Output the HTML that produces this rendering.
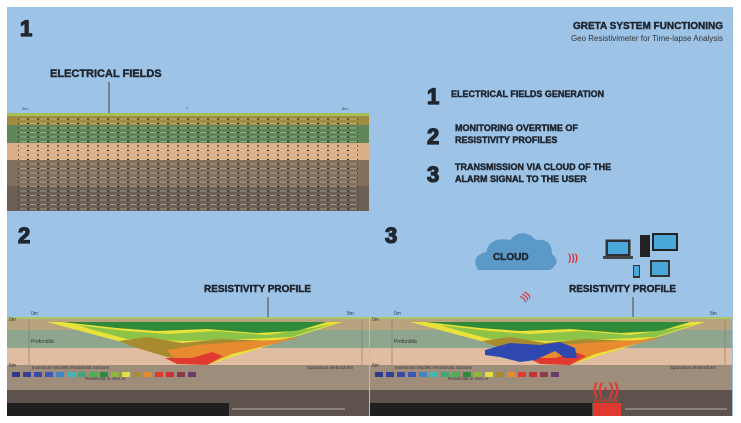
<!DOCTYPE html>
<html><head><style>
html,body{margin:0;padding:0;background:#fff;}
svg{display:block;}
text{font-family:"Liberation Sans",Arial,sans-serif;}
.b{font-weight:bold;fill:#1f2630;stroke:#1f2630;stroke-width:0.45;}
.n{font-weight:bold;fill:#1f2630;stroke:#1f2630;stroke-width:1.3;}
</style></head><body>
<svg width="741" height="423" viewBox="0 0 741 423" xmlns="http://www.w3.org/2000/svg">
<defs>
<pattern id="ar" width="10" height="4.5" patternUnits="userSpaceOnUse">
<line x1="0" y1="2" x2="7" y2="2" stroke="#e6dcc8" stroke-width="0.6" opacity="0.7"/>
<line x1="7" y1="2" x2="9" y2="2" stroke="#1a1a1a" stroke-width="0.9"/>
</pattern>
<g id="profile">
<rect x="0" y="0" width="362" height="2" fill="#a9c969"/>
<rect x="0" y="2" width="362" height="11" fill="#b7a37e"/>
<rect x="0" y="13" width="362" height="18" fill="#8fa58e"/>
<rect x="0" y="31" width="362" height="17" fill="#e0bca0"/>
<rect x="0" y="48" width="362" height="25" fill="#9f8d7c"/>
<rect x="0" y="73" width="362" height="26" fill="#5e534c"/>
<line x1="22" y1="2" x2="22" y2="48" stroke="#7a7a7a" stroke-width="0.6"/>
<line x1="355" y1="2" x2="355" y2="48" stroke="#7a7a7a" stroke-width="0.6"/>
<text x="2" y="4" font-size="5" fill="#333">0m</text>
<text x="2" y="50" font-size="5" fill="#333">6m</text>
<text x="24" y="-2" font-size="5" fill="#345">0m</text>
<text x="340" y="-2" font-size="5" fill="#345">8m</text>
<text x="24" y="26" font-size="5" fill="#333">Profondità</text>
<text x="25" y="52" font-size="4.5" fill="#333">Inversione Modello Resistività Sezione</text>
<text x="300" y="52" font-size="4.5" fill="#333">Spaziatura elettrodi 8m</text>
<text x="78" y="63" font-size="4.5" fill="#333">Resistività in ohm.m</text>
<g>
<rect x="5" y="55" width="8" height="5" fill="#2f3b8a"/><rect x="16" y="55" width="8" height="5" fill="#33409a"/>
<rect x="27" y="55" width="8" height="5" fill="#3a4aa8"/><rect x="38" y="55" width="8" height="5" fill="#3c58b8"/>
<rect x="49" y="55" width="8" height="5" fill="#3d86c8"/><rect x="60" y="55" width="8" height="5" fill="#40b8b8"/>
<rect x="71" y="55" width="8" height="5" fill="#3fa87a"/><rect x="82" y="55" width="8" height="5" fill="#48b050"/>
<rect x="93" y="55" width="8" height="5" fill="#2f8a3a"/><rect x="104" y="55" width="8" height="5" fill="#8db83a"/>
<rect x="115" y="55" width="8" height="5" fill="#e0e040"/><rect x="126" y="55" width="8" height="5" fill="#a88a30"/>
<rect x="137" y="55" width="8" height="5" fill="#e88a30"/><rect x="148" y="55" width="8" height="5" fill="#e03a30"/>
<rect x="159" y="55" width="8" height="5" fill="#c83038"/><rect x="170" y="55" width="8" height="5" fill="#8a3a48"/>
<rect x="181" y="55" width="8" height="5" fill="#6a3a6a"/>
</g>
<polygon points="40,5 335,5 200,48" fill="#e9e23a"/>
<polygon points="55,5 320,5 290,14 250,16 200,12 150,14 110,11" fill="#2f8a3a"/>
<polygon points="70,8 120,14 160,17 210,14 260,18 300,12 325,7 285,20 240,22 180,24 120,22 90,14" fill="#8dc447"/>
<polygon points="112,24 140,20 175,26 215,22 265,24 295,19 215,39 200,48 160,40 130,31" fill="#a88a30"/>
<polygon points="160,33 190,28 230,25 270,23 290,21 225,37 200,48 170,45" fill="#e88a30"/>
<polygon points="158,41 185,41 205,35 216,39 200,48 170,47" fill="#e03a30"/>
</g>
</defs>
<rect x="7" y="7" width="726" height="409" fill="#9dc3e6"/>
<!-- panel 1 -->
<text x="20" y="36" font-size="22" class="n">1</text>
<text x="50" y="77" font-size="11" class="b">ELECTRICAL FIELDS</text>
<line x1="109" y1="82" x2="109" y2="115" stroke="#444" stroke-width="1"/>
<text x="22" y="110" font-size="4" fill="#345">0m</text>
<text x="186" y="110" font-size="4" fill="#345">?</text>
<text x="342" y="110" font-size="4" fill="#345">8m</text>
<rect x="7" y="113" width="362" height="3" fill="#a3c05a"/>
<rect x="7" y="116" width="362" height="9" fill="#9f8c3e"/>
<rect x="7" y="125" width="362" height="18" fill="#5f8658"/>
<rect x="7" y="143" width="362" height="17" fill="#dcae88"/>
<rect x="7" y="160" width="362" height="26" fill="#82705d"/>
<rect x="7" y="186" width="362" height="25" fill="#6c6056"/>
<rect x="18" y="117" width="340" height="93" fill="url(#ar)"/>
<!-- header -->
<text x="723" y="29" font-size="10" class="b" text-anchor="end">GRETA SYSTEM FUNCTIONING</text>
<text x="723" y="41" font-size="8" fill="#333" text-anchor="end">Geo Resistivimeter for Time-lapse Analysis</text>
<text x="427" y="104" font-size="22" class="n">1</text>
<text x="451" y="97" font-size="9" class="b">ELECTRICAL FIELDS GENERATION</text>
<text x="427" y="144" font-size="22" class="n">2</text>
<text x="455" y="131" font-size="9" class="b">MONITORING OVERTIME OF</text>
<text x="455" y="143" font-size="9" class="b">RESISTIVITY PROFILES</text>
<text x="427" y="182" font-size="22" class="n">3</text>
<text x="455" y="170" font-size="9" class="b">TRANSMISSION VIA CLOUD OF THE</text>
<text x="455" y="182" font-size="9" class="b">ALARM SIGNAL TO THE USER</text>
<!-- panel 2 -->
<text x="18" y="243" font-size="22" class="n">2</text>
<text x="204" y="292" font-size="10" class="b">RESISTIVITY PROFILE</text>
<line x1="268" y1="297" x2="268" y2="335" stroke="#444" stroke-width="1"/>
<g transform="translate(7,317)"><use href="#profile"/></g>
<rect x="7" y="403" width="222" height="13" fill="#1f1f1f"/>
<line x1="232" y1="409" x2="345" y2="409" stroke="#ccc" stroke-width="0.8"/>
<!-- panel 3 -->
<text x="385" y="243" font-size="22" class="n">3</text>
<path d="M478,270 Q470,256 486,252 Q490,236 510,240 Q522,226 536,240 Q552,238 552,254 Q562,262 550,270 Z" fill="#5b9ac8"/>
<text x="493" y="260" font-size="10" class="b">CLOUD</text>
<text x="568" y="261" font-size="10" fill="#d33" font-weight="bold">)))</text>
<text x="520" y="300" font-size="9" fill="#d33" font-weight="bold" transform="rotate(-45 524 296)">)))</text>
<rect x="606" y="240" width="24" height="16" fill="#2a2f38" stroke="#333"/>
<rect x="608" y="242" width="20" height="12" fill="#4aa8d8"/>
<rect x="603" y="256" width="30" height="3" fill="#444"/>
<rect x="640" y="235" width="10" height="22" fill="#222"/>
<rect x="652" y="233" width="26" height="18" fill="#222"/><rect x="654" y="235" width="22" height="14" fill="#4aa8d8"/>
<rect x="650" y="260" width="20" height="17" fill="#333"/><rect x="652" y="262" width="16" height="13" fill="#4aa8d8"/>
<rect x="633" y="265" width="7" height="13" fill="#333"/><rect x="634" y="266" width="5" height="10" fill="#4aa8d8"/>
<text x="569" y="292" font-size="10" class="b">RESISTIVITY PROFILE</text>
<line x1="633" y1="297" x2="633" y2="330" stroke="#444" stroke-width="1"/>
<g transform="translate(370,317)"><use href="#profile"/></g>
<polygon points="485,350 510,343 540,345 560,342 575,348 577,358 565,358 555,351 535,360 520,362 500,357 485,355" fill="#2f48b0"/>
<rect x="370" y="403" width="222" height="13" fill="#1f1f1f"/>
<rect x="593" y="403" width="28" height="13" fill="#e03a30"/>
<line x1="625" y1="409" x2="727" y2="409" stroke="#ccc" stroke-width="0.8"/>
<text x="606" y="394" font-size="16" fill="#e03a30" text-anchor="middle" font-weight="bold">((·))</text>
<text x="606" y="402" font-size="5" fill="#e03a30" text-anchor="middle" font-weight="bold">ALLARME</text>
</svg>
</body></html>
